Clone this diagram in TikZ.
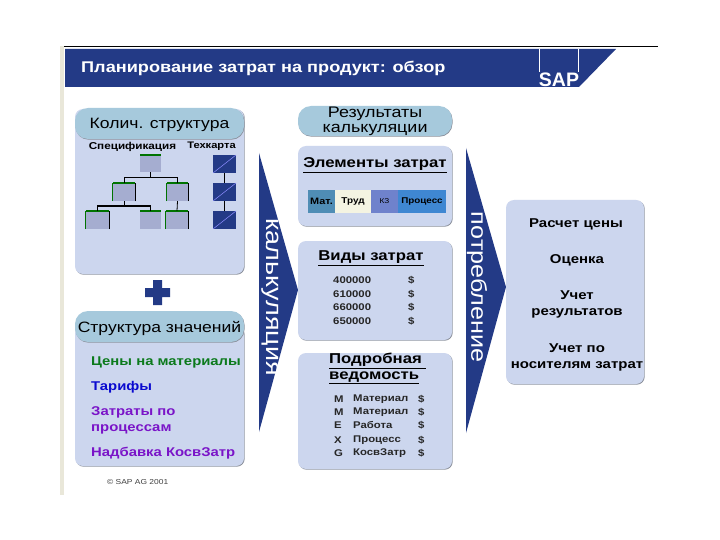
\documentclass[tikz,border=0pt]{standalone}
\usepackage{fontspec}
\setmainfont[FakeStretch=1.17]{Liberation Sans}
\newfontfamily\logofont{Liberation Sans}
\usepackage{xcolor}
\usetikzlibrary{shadows}
\definecolor{SAPNavy}{HTML}{233A86}
\definecolor{SAPBox}{HTML}{CCD6EE}
\definecolor{SAPPill}{HTML}{A6C9DC}
\definecolor{SAPEdge}{HTML}{8A8F9A}
\definecolor{SAPStrip}{HTML}{E9E7D9}
\definecolor{SAPItem}{HTML}{A5ADD0}
\definecolor{SAPGreen}{HTML}{0B7A1C}
\definecolor{SAPBlue}{HTML}{0A0ACF}
\definecolor{SAPViolet}{HTML}{7A14C8}
\definecolor{SAPMat}{HTML}{4F8DB5}
\definecolor{SAPLabour}{HTML}{F4F4E2}
\definecolor{SAPOverhead}{HTML}{6F82CC}
\definecolor{SAPProcess}{HTML}{3F87D2}
\newcommand{\px}[1]{\fontsize{#1}{#1}\selectfont}
\tikzset{
  panel/.style={fill=SAPBox,rounded corners=8pt,inner sep=0pt,
    drop shadow={shadow xshift=.7pt,shadow yshift=-.7pt,fill=SAPEdge,opacity=1}},
  pill/.style={fill=SAPPill,rounded corners=13pt,inner sep=0pt,align=center,
    drop shadow={shadow xshift=.5pt,shadow yshift=-.7pt,fill=SAPEdge,opacity=1}},
  itembox/.style={fill=SAPItem,inner sep=0pt,path picture={
    \draw[green!45!black,line width=1.5pt] (path picture bounding box.north west) -- (path picture bounding box.north east);}},
  itemframe/.style={itembox,append after command={
    (\tikzlastnode.south west) edge[green!45!black,line width=.8pt] (\tikzlastnode.north west)
    (\tikzlastnode.south east) edge[black,line width=.8pt] (\tikzlastnode.north east)}},
  routebox/.style={fill=SAPNavy,inner sep=0pt,minimum width=23pt,path picture={
    \draw[blue!45!white,line width=.5pt] (path picture bounding box.south west) -- (path picture bounding box.north east);}},
  treeline/.style={black,line width=.8pt},
  treebold/.style={black,line width=1.5pt},
  stripbox/.style={inner sep=0pt,minimum height=23pt,text=black},
  flowtext/.style={text=white,rotate=-90,inner sep=0pt},
  valtext/.style={anchor=west,inner sep=0pt,font=\px{9.7}\bfseries,text=black!85},
  pricetext/.style={anchor=west,inner sep=0pt,font=\px{12.7}\bfseries},
  usetext/.style={inner sep=0pt,align=center,font=\px{12.8}\bfseries,text=black},
  headtext/.style={inner sep=0pt,font=\px{14.3}\bfseries}
}
\begin{document}
\begin{tikzpicture}[x=1pt,y=-1pt]
\path[use as bounding box] (0,0) rectangle (720,540);
\fill[white] (0,0) rectangle (720,540);
% page edge
\fill[SAPStrip] (60,46) rectangle (64,495);
\draw[black,line width=1pt] (64,46.5) -- (658,46.5);
% header
\fill[SAPNavy] (65,49) -- (616,49) -- (579,87) -- (65,87) -- cycle;
\draw[white,line width=.5pt] (539.5,49) -- (539.5,72);
\draw[white,line width=.5pt] (578.5,49) -- (578.5,72);
\node[anchor=west,inner sep=0pt,text=white,font=\px{15.5}\bfseries] (title) at (81,68) {Планирование затрат на продукт: обзор};
\node[inner sep=0pt,text=white,font=\px{19.5}\logofont\bfseries] (logo) at (559,79.5) {SAP};
% left column
\node[panel,minimum width=169pt,minimum height=165pt] (qtypanel) at (159.5,191.5) {};
\node[pill,minimum width=169pt,minimum height=31pt,text depth=0pt] (qtypill) at (159.5,123.5) {\px{15}Колич. структура};
\node[inner sep=0pt,font=\px{10}\bfseries] (bomlabel) at (132.5,147) {Спецификация};
\node[inner sep=0pt,font=\px{9.5}\bfseries] (routelabel) at (211.5,146) {Техкарта};
\node[itembox,minimum width=21pt,minimum height=17pt] (bomtop) at (150.5,163.5) {};
\node[itemframe,minimum width=22pt,minimum height=18pt] (bommidl) at (124,192) {};
\node[itemframe,minimum width=21pt,minimum height=18pt] (bommidr) at (177.5,192) {};
\node[itemframe,minimum width=23pt,minimum height=18pt] (bomlowa) at (97.5,220) {};
\node[itembox,minimum width=21pt,minimum height=18pt] (bomlowb) at (150.5,220) {};
\node[itemframe,minimum width=22pt,minimum height=18pt] (bomlowc) at (177,220) {};
\coordinate (busmid) at (150.5,177);
\coordinate (buslow) at (124,206);
\draw[treebold] (bomtop.south) -- (busmid);
\draw[treeline] (busmid) -| (bommidl.north);
\draw[treeline] (busmid) -| (bommidr.north);
\draw[treeline] (bommidl.south) -- (buslow);
\draw[treebold] (buslow) -| (bomlowa.north);
\draw[treebold] (buslow) -| (bomlowb.north);
\draw[treeline] (bommidr.south) -- (bomlowc.north);
\node[routebox,minimum height=18pt] (routea) at (224.5,164) {};
\node[routebox,minimum height=18pt] (routeb) at (224.5,192) {};
\node[routebox,minimum height=18pt] (routec) at (224.5,220) {};
\draw[treeline] (routea) -- (routeb);
\draw[treeline] (routeb) -- (routec);
\fill[SAPNavy] (153,280) -- (162,280) -- (162,288) -- (170,288) -- (170,297) -- (162,297) -- (162,305) -- (153,305) -- (153,297) -- (145,297) -- (145,288) -- (153,288) -- cycle;
\node[panel,minimum width=169pt,minimum height=140pt] (valpanel) at (159.5,396) {};
\node[pill,minimum width=169pt,minimum height=31pt,text depth=0pt] (valpill) at (159.5,326.5) {\px{15}Структура значений};
\node[pricetext,text=SAPGreen] (pricea) at (91,362) {Цены на материалы};
\node[pricetext,text=SAPBlue] (priceb) at (91,387) {Тарифы};
\node[pricetext,text=SAPViolet] (pricec) at (91,412) {Затраты по};
\node[pricetext,text=SAPViolet] (priced) at (91,429) {процессам};
\node[pricetext,text=SAPViolet] (pricee) at (91,453) {Надбавка КосвЗатр};
\node[anchor=west,inner sep=0pt,text=black!75,font=\px{7.2}] (copyright) at (107,482) {© SAP AG 2001};
% arrows
\fill[SAPNavy] (259,153) -- (298,290) -- (259,432) -- cycle;
\node[flowtext,font=\px{23}] (calc) at (270,297) {калькуляция};
\fill[SAPNavy] (466,148) -- (506,287) -- (466,433) -- cycle;
\node[flowtext,font=\px{21.5}] (use) at (477,287) {потребление};
% middle column
\node[pill,minimum width=154pt,minimum height=30pt,font=\px{15.3}] (respill) at (375,121) {Результаты\\[-.6pt]калькуляции};
\node[panel,minimum width=154pt,minimum height=80pt] (elempanel) at (375,186) {};
\node[headtext] (elemtitle) at (375,165) {\underline{Элементы затрат}};
\node[stripbox,fill=SAPMat,minimum width=27pt,font=\px{9.3}\bfseries] (stripmat) at (321.5,201.5) {Мат.};
\node[stripbox,fill=SAPLabour,minimum width=36pt,font=\px{8.5}\bfseries] (striplab) at (353,201.5) {Труд};
\node[stripbox,fill=SAPOverhead,minimum width=27pt,font=\px{7}] (stripover) at (384.5,201.5) {КЗ};
\node[stripbox,fill=SAPProcess,minimum width=48pt,font=\px{8.4}\bfseries] (stripproc) at (422,201.5) {Процесс};
\node[panel,minimum width=154pt,minimum height=99pt] (typepanel) at (375,290.5) {};
\node[headtext] (typetitle) at (371,258) {\underline{Виды затрат}};
\node[valtext] (vala) at (333,280) {400000};
\node[valtext] (valb) at (333,294) {610000};
\node[valtext] (valc) at (333,307) {660000};
\node[valtext] (vald) at (333,321) {650000};
\node[valtext] (cura) at (408,280) {\$};
\node[valtext] (curb) at (408,294) {\$};
\node[valtext] (curc) at (408,307) {\$};
\node[valtext] (curd) at (408,321) {\$};
\node[panel,minimum width=154pt,minimum height=116pt] (listpanel) at (375,411) {};
\node[anchor=west,headtext] (listtitlea) at (329,361) {\underline{Подробная\ }};
\node[anchor=west,headtext] (listtitleb) at (329,378) {\underline{ведомость}};
\node[valtext] (lista) at (334,399) {M};
\node[valtext] (listb) at (334,412) {M};
\node[valtext] (listc) at (334,425) {E};
\node[valtext] (listd) at (334,440) {X};
\node[valtext] (liste) at (334,453) {G};
\node[valtext] (itema) at (353,399) {Материал};
\node[valtext] (itemb) at (353,412) {Материал};
\node[valtext] (itemc) at (353,425) {Работа};
\node[valtext] (itemd) at (353,440) {Процесс};
\node[valtext] (iteme) at (353,453) {КосвЗатр};
\node[valtext] (moneya) at (418,399) {\$};
\node[valtext] (moneyb) at (418,412) {\$};
\node[valtext] (moneyc) at (418,425) {\$};
\node[valtext] (moneyd) at (418,440) {\$};
\node[valtext] (moneye) at (418,453) {\$};
% right column
\node[panel,minimum width=138pt,minimum height=184pt] (usepanel) at (575,292) {};
\node[usetext] (usea) at (576,224) {Расчет цены};
\node[usetext] (useb) at (577,260) {Оценка};
\node[usetext] (usec) at (577,295) {Учет};
\node[usetext] (used) at (577,313) {результатов};
\node[usetext] (usee) at (577,348) {Учет по};
\node[usetext] (usef) at (577,366) {носителям затрат};
\end{tikzpicture}
\end{document}
